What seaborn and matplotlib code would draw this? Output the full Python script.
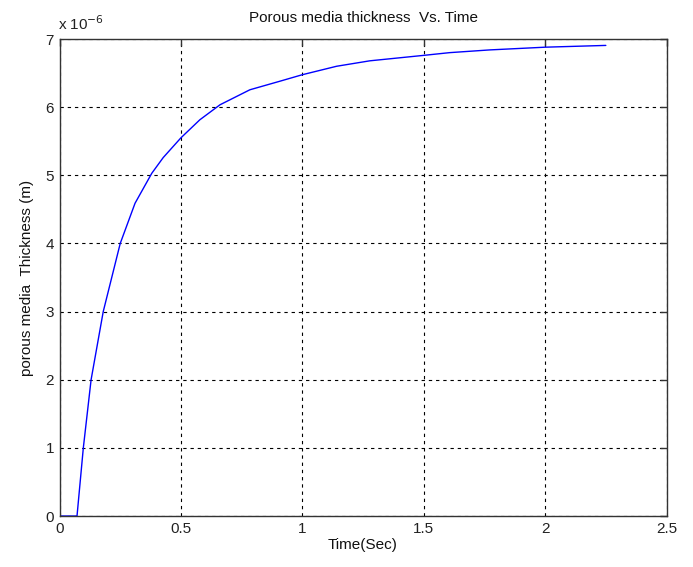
import matplotlib
matplotlib.use("Agg")
import matplotlib.pyplot as plt
import matplotlib.ticker as mticker
import numpy as np
import pandas as pd
import seaborn as sns

# Porous media thickness growth over time
time_s = [0.0, 0.072, 0.098, 0.130, 0.180, 0.250, 0.311, 0.380, 0.427, 0.500,
          0.578, 0.661, 0.784, 0.907, 1.000, 1.141, 1.278, 1.500, 1.607, 1.772,
          2.000, 2.250]
thickness_um = [0.0, 0.0, 1.0, 2.0, 3.0, 4.0, 4.59, 5.03, 5.26, 5.55,
                5.815, 6.035, 6.255, 6.38, 6.476, 6.60, 6.68, 6.76, 6.80, 6.84,
                6.88, 6.906]
x_ticks = [0, 0.5, 1, 1.5, 2, 2.5]
y_ticks = [0, 1, 2, 3, 4, 5, 6, 7]

sns.set_style("white")
plt.rcParams["font.family"] = ["Liberation Sans", "DejaVu Sans"]

df = pd.DataFrame({"t": time_s, "h": np.array(thickness_um) * 1e-6})

fig = plt.figure(figsize=(6.93, 5.67), dpi=100)
ax = fig.add_axes([0.0859, 0.0899, 0.9618 - 0.0859, 0.9312 - 0.0899])

sns.lineplot(data=df, x="t", y="h", ax=ax, color="#0000ff", linewidth=1.0,
             estimator=None, sort=False, solid_joinstyle="round")

ax.set_xlim(0, 2.5)
ax.set_ylim(0, 7e-6)
ax.set_xticks(x_ticks)
ax.set_yticks([v * 1e-6 for v in y_ticks])
ax.xaxis.set_major_formatter(mticker.FuncFormatter(lambda v, p: f"{v:g}"))
ax.yaxis.set_major_formatter(mticker.FuncFormatter(lambda v, p: f"{round(v / 1e-6):d}"))

ax.grid(True, color="black", linestyle=(0, (3, 3.5)), linewidth=0.8)
for s in ax.spines.values():
    s.set_color("#333333")
    s.set_linewidth(1.0)
ax.tick_params(direction="in", length=5, width=1.0, color="#333333",
               top=True, right=True, labelsize=11, labelcolor="#222222", pad=4)

ax.text(-0.002, 1.012, r"x 10$^{-6}$", transform=ax.transAxes, fontsize=11,
        ha="left", va="bottom", color="#222222")
ax.set_title("Porous media thickness  Vs. Time", fontsize=11, pad=12, color="#111111")
ax.set_xlabel("Time(Sec)", fontsize=11, labelpad=2, color="#111111")
ax.set_ylabel("porous media  Thickness (m)", fontsize=11, labelpad=8, color="#111111")

fig.savefig("out.png", dpi=100, facecolor="white")
